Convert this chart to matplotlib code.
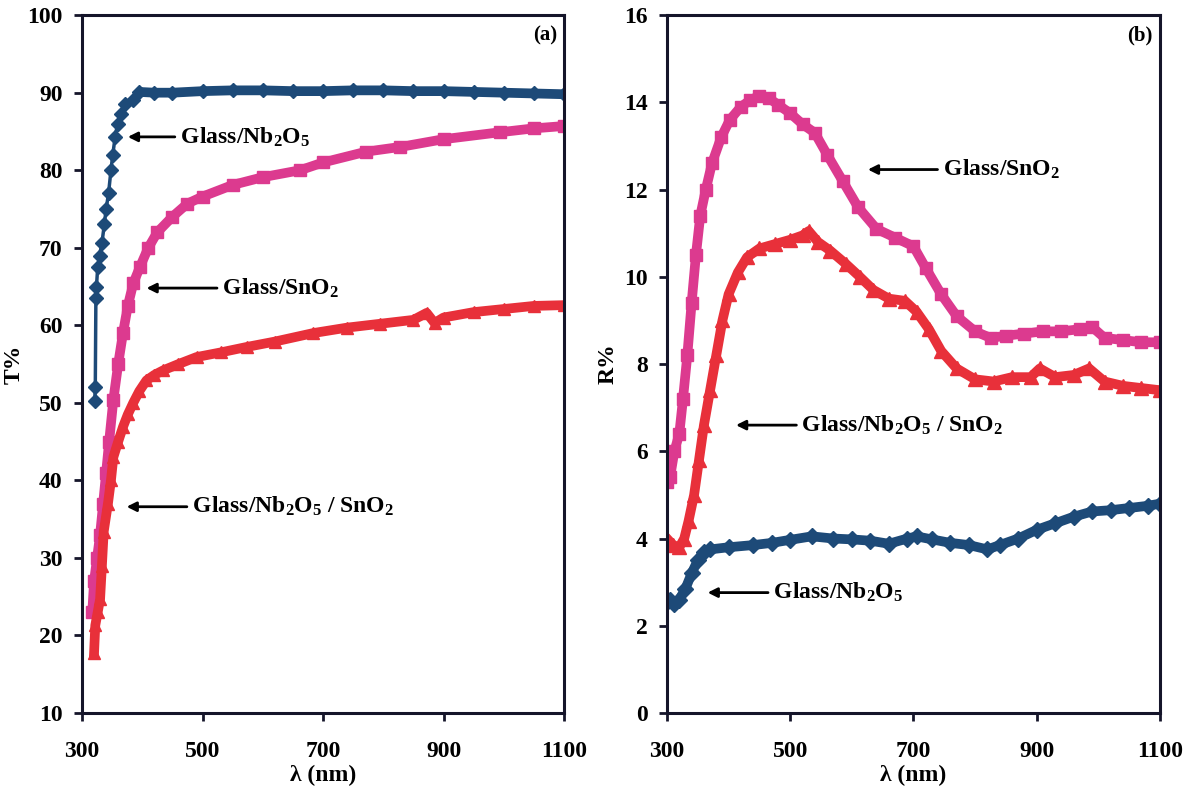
import matplotlib.pyplot as plt
import numpy as np

plt.rcParams['font.family'] = ['Liberation Serif', 'DejaVu Serif']
plt.rcParams['font.weight'] = 'bold'
plt.rcParams['mathtext.fontset'] = 'custom'
plt.rcParams['mathtext.rm'] = 'Liberation Serif:bold'
plt.rcParams['mathtext.bf'] = 'Liberation Serif:bold'
plt.rcParams['mathtext.default'] = 'bf'

# (a) transmittance
t_nb_wl = [321, 322, 323, 324, 326, 329, 333, 337, 340, 344, 348, 351, 355, 359, 364, 372,
           385, 395, 420, 450, 500, 550, 600, 650, 700, 750, 800, 850, 900, 950, 1000, 1050, 1100]
t_nb = [50.2, 52.0, 63.5, 65.0, 67.5, 69.0, 70.6, 73.0, 75.0, 77.0, 80.0, 82.0, 84.3, 86.0, 87.3, 88.6,
        89.0, 90.1, 90.0, 90.0, 90.2, 90.3, 90.3, 90.2, 90.2, 90.3, 90.3, 90.2, 90.2, 90.1, 90.0, 89.9, 89.8]

t_sn_wl = [317, 320, 325, 330, 335, 340, 345, 352, 360, 368, 376, 385, 396, 410, 425, 450, 475,
           500, 550, 600, 662, 700, 772, 828, 900, 994, 1050, 1100]
t_sn = [23, 27, 30, 33, 37, 41, 45, 50.4, 55, 59, 62.5, 65.4, 67.5, 70, 72, 74, 75.7,
        76.6, 78.1, 79.1, 80.0, 81.0, 82.4, 83.0, 84.0, 84.9, 85.4, 85.7]

t_nbsn_wl = [320, 322, 326, 330, 333, 336, 343, 348, 352, 360, 368, 376, 385, 395, 407, 420, 435,
             460, 490, 530, 573, 620, 684, 740, 795, 850, 872, 885, 900, 950, 1000, 1050, 1100]
t_nbsn = [17.8, 21.3, 23, 24.7, 29, 33.4, 37, 40, 43, 45, 46.9, 48.5, 50, 51.5, 52.9, 53.6, 54.2,
          55.0, 55.9, 56.5, 57.2, 57.9, 59, 59.7, 60.2, 60.7, 61.6, 60.3, 61.0, 61.7, 62.1, 62.5, 62.6]

# (b) reflectance
r_sn_wl = [300, 305, 312, 320, 326, 333, 340, 347, 354, 363, 373, 388, 402, 420, 435, 450, 465, 480,
           500, 520, 540, 560, 585, 610, 640, 670, 700, 720, 745, 770, 800, 825, 850, 880, 910, 940,
           970, 990, 1010, 1040, 1070, 1100]
r_sn = [5.3, 5.4, 6.0, 6.4, 7.2, 8.2, 9.4, 10.5, 11.4, 12.0, 12.6, 13.2, 13.6, 13.9, 14.05, 14.15, 14.1, 13.95,
        13.75, 13.5, 13.3, 12.8, 12.2, 11.6, 11.1, 10.9, 10.7, 10.2, 9.6, 9.1, 8.75, 8.6, 8.65, 8.7, 8.75, 8.75,
        8.8, 8.85, 8.6, 8.55, 8.5, 8.5]

r_nbsn_wl = [300, 310, 320, 328, 335, 344, 352, 360, 370, 380, 390, 400, 415, 430, 450, 475, 500, 520, 530,
             545, 565, 590, 613, 635, 660, 686, 705, 725, 745, 770, 800, 830, 860, 890, 905, 930, 960,
             985, 1010, 1040, 1070, 1100]
r_nbsn = [4.0, 3.85, 3.8, 4.0, 4.4, 5.0, 5.8, 6.6, 7.4, 8.2, 9.0, 9.6, 10.1, 10.45, 10.65, 10.75, 10.85, 10.95, 11.05,
          10.8, 10.6, 10.3, 10.0, 9.7, 9.5, 9.45, 9.2, 8.8, 8.3, 7.9, 7.65, 7.6, 7.7, 7.7, 7.9, 7.7, 7.75,
          7.9, 7.6, 7.5, 7.45, 7.4]

r_nb_wl = [300, 305, 312, 320, 330, 340, 350, 360, 370, 400, 440, 470, 500, 535, 570, 600, 630, 660,
           690, 705, 730, 760, 790, 820, 840, 870, 900, 930, 960, 990, 1020, 1050, 1080, 1100]
r_nb = [2.55, 2.6, 2.5, 2.6, 2.85, 3.2, 3.5, 3.7, 3.75, 3.8, 3.85, 3.9, 3.97, 4.05, 4.0, 3.98, 3.95, 3.88,
        4.0, 4.05, 3.98, 3.9, 3.85, 3.75, 3.85, 4.0, 4.2, 4.35, 4.5, 4.62, 4.65, 4.7, 4.75, 4.8]

blue = '#1d4a78'
pink = '#dc3a8f'
red = '#e8303a'

lab_nb = 'Glass/Nb$_2$O$_5$'
lab_sn = 'Glass/SnO$_2$'
lab_nbsn = 'Glass/Nb$_2$O$_5$ / SnO$_2$'

fig = plt.figure(figsize=(11.94, 7.93), dpi=100)
ax1 = fig.add_axes([0.0687, 0.1009, 0.4037, 0.880])
ax2 = fig.add_axes([0.5586, 0.1009, 0.4129, 0.880])


def style(ax):
    for s in ax.spines.values():
        s.set_linewidth(2.2)
        s.set_color('#15152a')
    ax.tick_params(direction='out', length=6, width=2, labelsize=17, color='#15152a')
    ax.tick_params(axis='x', pad=14)
    ax.tick_params(axis='y', pad=8)
    ax.set_xlim(300, 1100)
    ax.set_xticks([300, 500, 700, 900, 1100])
    ax.set_xlabel('λ (nm)', fontsize=17, fontweight='bold', labelpad=2)
    for lbl in ax.get_xticklabels() + ax.get_yticklabels():
        lbl.set_fontweight('bold')


def arrow(ax, head, tail, y, text):
    ax.annotate('', xy=(head, y), xytext=(tail, y),
                arrowprops=dict(arrowstyle='-|>', color='black', lw=2, mutation_scale=14,
                                shrinkA=0, shrinkB=0))
    ax.text(tail, y, ' ' + text, fontsize=17, fontweight='bold', va='center', ha='left')


# panel (a)
ax1.plot(t_nb_wl, t_nb, color=blue, lw=2.5, marker='D', ms=7)
ax1.plot(t_nb_wl[17:], t_nb[17:], color=blue, lw=7, solid_capstyle='butt')
ax1.plot(t_sn_wl, t_sn, color=pink, lw=7, marker='s', ms=8)
ax1.plot(t_nbsn_wl, t_nbsn, color=red, lw=7, marker='^', ms=9)
style(ax1)
ax1.set_ylim(10, 100)
ax1.set_yticks(np.arange(10, 101, 10))
ax1.set_ylabel('T%', fontsize=17, fontweight='bold', labelpad=2)
ax1.text(0.985, 0.985, '(a)', transform=ax1.transAxes, fontsize=15, fontweight='bold',
         ha='right', va='top')
arrow(ax1, 376, 454, 84.3, lab_nb)
arrow(ax1, 407, 524, 64.8, lab_sn)
arrow(ax1, 374, 474, 36.6, lab_nbsn)

# panel (b)
ax2.plot(r_nb_wl, r_nb, color=blue, lw=7, marker='D', ms=8)
ax2.plot(r_sn_wl, r_sn, color=pink, lw=7, marker='s', ms=9)
ax2.plot(r_nbsn_wl, r_nbsn, color=red, lw=7, marker='^', ms=10)
style(ax2)
ax2.set_ylim(0, 16)
ax2.set_yticks(np.arange(0, 17, 2))
ax2.set_ylabel('R%', fontsize=17, fontweight='bold', labelpad=4)
ax2.text(0.985, 0.985, '(b)', transform=ax2.transAxes, fontsize=15, fontweight='bold',
         ha='right', va='top')
arrow(ax2, 626, 739, 12.46, lab_sn)
arrow(ax2, 412, 510, 6.6, lab_nbsn)
arrow(ax2, 366, 464, 2.76, lab_nb)

fig.savefig('out.png', dpi=100)
